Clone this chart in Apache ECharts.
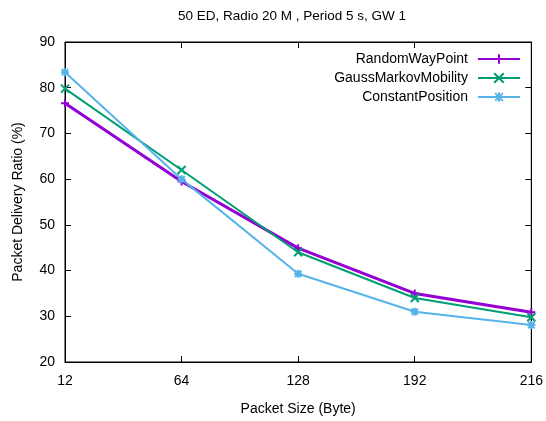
<!DOCTYPE html>
<html><head><meta charset="utf-8">
<script src="https://cdn.jsdelivr.net/npm/echarts@6/dist/echarts.min.js"></script>
<style>html,body{margin:0;padding:0;background:#fff}#c{width:546px;height:421px}</style>
</head><body><div id="c"></div>
<script>
const categories = ['12','64','128','192','216'];
const randomWayPoint = [76.6, 59.5, 44.9, 35.0, 30.9];
const gaussMarkov = [79.8, 62.0, 44.0, 34.0, 29.8];
const constantPosition = [83.4, 60.0, 39.3, 31.0, 28.1];
const yTicks = [20, 30, 40, 50, 60, 70, 80, 90];

const FONT = 'Liberation Sans';
const FS = 14;
const plus = 'path://M0,-5V5M-5,0H5';
const cross = 'path://M-5,-5L5,5M-5,5L5,-5';
const star = 'path://M0,-5V5M-5,0H5M-4,-4L4,4M-4,4L4,-4';

function mk(name, data, color, width, sym) {
  return {
    name, type: 'line', data, symbol: sym, symbolSize: 8, showSymbol: true,
    lineStyle: {color, width},
    itemStyle: {color: 'transparent', borderColor: color, borderWidth: 2},
    emphasis: {disabled: true}, z: 3
  };
}
const chart = echarts.init(document.getElementById('c'), null, {renderer: 'canvas'});
chart.setOption({
  animation: false,
  backgroundColor: '#fff',
  title: {text: '50 ED, Radio 20 M , Period 5 s, GW 1', left: 287, textAlign: 'center', top: 4,
    textStyle: {fontFamily: FONT, fontSize: 13.5, fontWeight: 'normal', color: '#000'}},
  grid: {left: 65, right: 10, top: 42, bottom: 57, show: true, borderColor: '#000', borderWidth: 1},
  legend: {
    right: 20, top: 47, orient: 'vertical', align: 'right', itemGap: 5,
    itemWidth: 42, itemHeight: 12,
    textStyle: {fontFamily: FONT, fontSize: FS, color: '#000', padding: [0, 5, 0, 0]},
    data: ['RandomWayPoint', 'GaussMarkovMobility', 'ConstantPosition']
  },
  xAxis: [{
    type: 'category', data: categories, boundaryGap: false,
    name: 'Packet Size (Byte)', nameLocation: 'middle', nameGap: 40,
    nameTextStyle: {fontFamily: FONT, fontSize: FS, color: '#000'},
    axisLine: {lineStyle: {color: '#000'}},
    axisTick: {inside: true, length: 6, lineStyle: {color: '#000'}},
    axisLabel: {fontFamily: FONT, fontSize: FS, color: '#000', margin: 12},
    splitLine: {show: false}
  }, {
    type: 'category', data: categories, boundaryGap: false, position: 'top',
    axisLine: {lineStyle: {color: '#000'}},
    axisTick: {inside: true, length: 6, lineStyle: {color: '#000'}},
    axisLabel: {show: false}, splitLine: {show: false}
  }],
  yAxis: [{
    type: 'value', min: yTicks[0], max: yTicks[yTicks.length - 1], interval: 10,
    name: 'Packet Delivery Ratio (%)', nameLocation: 'middle', nameGap: 40,
    nameTextStyle: {fontFamily: FONT, fontSize: FS, color: '#000'},
    axisLine: {show: true, lineStyle: {color: '#000'}},
    axisTick: {show: true, inside: true, length: 6, lineStyle: {color: '#000'}},
    axisLabel: {fontFamily: FONT, fontSize: FS, color: '#000', margin: 10},
    splitLine: {show: false}
  }, {
    type: 'value', min: yTicks[0], max: yTicks[yTicks.length - 1], interval: 10, position: 'right',
    axisLine: {show: true, lineStyle: {color: '#000'}},
    axisTick: {show: true, inside: true, length: 6, lineStyle: {color: '#000'}},
    axisLabel: {show: false}, splitLine: {show: false}
  }],
  series: [
    mk('RandomWayPoint', randomWayPoint, '#9400d3', 3, plus),
    mk('GaussMarkovMobility', gaussMarkov, '#009e73', 2, cross),
    mk('ConstantPosition', constantPosition, '#56b4e9', 2, star)
  ]
});
</script></body></html>
